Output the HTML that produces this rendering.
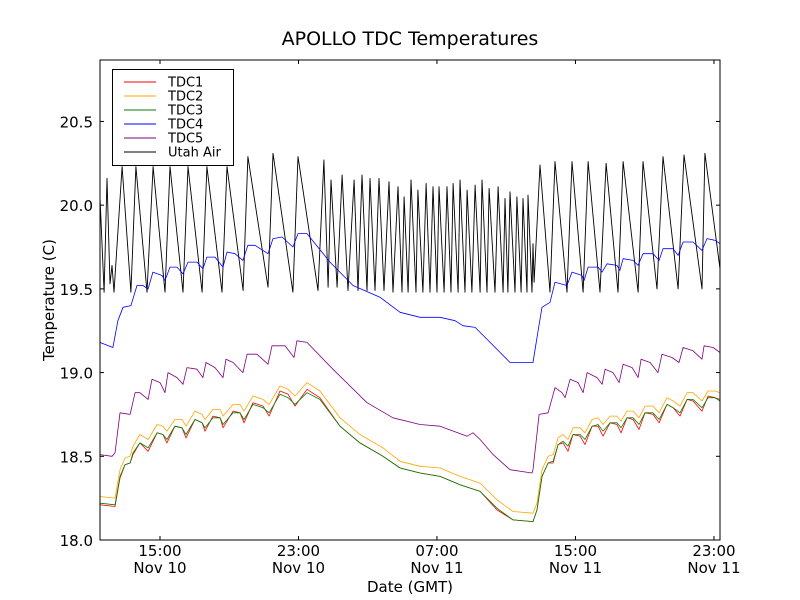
<!DOCTYPE html>
<html><head><meta charset="utf-8"><style>
html,body{margin:0;padding:0;background:#fff;}
svg{display:block;font-family:"DejaVu Sans","Liberation Sans",sans-serif;}
</style></head><body>
<svg id="chart" width="800" height="600" viewBox="0 0 800 600">
<rect width="800" height="600" fill="#fff"/>
<text x="410" y="45" font-size="19" text-anchor="middle">APOLLO TDC Temperatures</text>
<text x="0" y="0" font-size="15" text-anchor="middle" transform="translate(54,300) rotate(-90)">Temperature (C)</text>
<text x="410" y="592" font-size="15" text-anchor="middle">Date (GMT)</text>
<g id="series"></g>
<g id="axes"></g>
<g id="legend"></g>
</svg>
<script>
const tdcHours = [11.53,12.40,12.69,12.98,13.27,13.44,13.84,14.31,14.83,15.17,15.40,15.86,16.27,16.50,17.02,17.43,17.60,18.06,18.47,18.64,19.22,19.62,19.85,20.37,20.95,21.30,21.93,22.40,22.80,23.49,24.24,25.40,26.55,27.88,28.87,30.02,31.18,32.33,33.49,34.47,35.39,36.55,36.78,37.07,37.42,37.71,38.00,38.28,38.57,38.86,39.27,39.55,39.96,40.31,40.59,41.00,41.40,41.63,41.98,42.33,42.67,43.02,43.48,43.83,44.29,44.64,45.04,45.45,45.79,46.31,46.66,47.06,47.35];
const tdc3 = [18.22,18.21,18.38,18.45,18.46,18.52,18.58,18.55,18.64,18.63,18.60,18.68,18.67,18.63,18.72,18.70,18.67,18.73,18.73,18.69,18.76,18.76,18.72,18.81,18.79,18.76,18.87,18.85,18.81,18.88,18.84,18.68,18.58,18.50,18.43,18.40,18.38,18.33,18.29,18.19,18.12,18.11,18.18,18.38,18.46,18.47,18.57,18.59,18.56,18.63,18.63,18.60,18.68,18.69,18.65,18.70,18.70,18.67,18.73,18.73,18.69,18.76,18.76,18.72,18.81,18.79,18.76,18.84,18.84,18.79,18.85,18.85,18.83];
const tdc1 = [18.21,18.20,18.37,18.45,18.46,18.51,18.58,18.53,18.64,18.63,18.58,18.68,18.67,18.61,18.72,18.70,18.65,18.74,18.73,18.67,18.77,18.76,18.70,18.82,18.80,18.74,18.89,18.87,18.80,18.90,18.85,18.68,18.58,18.50,18.43,18.40,18.38,18.33,18.29,18.18,18.12,18.11,18.18,18.38,18.46,18.46,18.57,18.58,18.53,18.63,18.62,18.57,18.68,18.68,18.62,18.70,18.69,18.64,18.73,18.72,18.66,18.76,18.75,18.70,18.81,18.79,18.74,18.84,18.83,18.77,18.86,18.85,18.84];
const tdc2 = [18.26,18.25,18.42,18.49,18.50,18.56,18.63,18.60,18.69,18.68,18.65,18.72,18.72,18.68,18.77,18.75,18.72,18.78,18.78,18.74,18.81,18.81,18.77,18.86,18.84,18.81,18.92,18.90,18.86,18.94,18.89,18.73,18.63,18.55,18.47,18.44,18.43,18.38,18.34,18.24,18.17,18.16,18.22,18.42,18.50,18.51,18.61,18.63,18.60,18.67,18.67,18.64,18.72,18.73,18.69,18.74,18.74,18.71,18.77,18.77,18.73,18.80,18.80,18.76,18.85,18.83,18.80,18.88,18.88,18.83,18.89,18.89,18.88];
const tdc4Hours = [11.53,12.28,12.57,12.86,13.32,13.67,14.02,14.31,14.59,15.12,15.29,15.58,15.98,16.33,16.62,17.14,17.48,17.71,18.18,18.64,18.87,19.33,19.79,20.08,20.49,21.24,21.53,22.05,22.68,22.97,23.49,24.82,26.15,27.71,28.87,30.02,31.18,32.04,32.50,33.20,34.07,35.22,36.55,36.84,37.07,37.53,37.82,38.51,38.80,39.38,39.50,39.73,40.31,40.54,40.82,41.40,41.57,41.75,42.33,42.62,42.90,43.48,43.83,44.06,44.64,44.93,45.22,45.79,46.31,46.60,47.06,47.35];
const tdc4 = [19.18,19.15,19.31,19.39,19.40,19.52,19.52,19.50,19.60,19.58,19.55,19.63,19.63,19.59,19.66,19.66,19.62,19.69,19.69,19.63,19.72,19.71,19.67,19.76,19.76,19.71,19.80,19.81,19.75,19.83,19.83,19.66,19.52,19.45,19.36,19.33,19.33,19.31,19.28,19.27,19.18,19.06,19.06,19.25,19.39,19.42,19.54,19.52,19.60,19.58,19.55,19.63,19.63,19.60,19.65,19.64,19.61,19.68,19.67,19.64,19.71,19.71,19.67,19.74,19.74,19.70,19.78,19.78,19.73,19.80,19.79,19.77];
const tdc5Hours = [11.53,12.23,12.40,12.69,13.27,13.56,13.84,14.31,14.54,15.00,15.29,15.46,15.98,16.33,16.56,17.14,17.48,17.66,18.18,18.64,18.81,19.22,19.79,20.03,20.60,21.24,21.47,22.22,22.74,22.91,23.49,24.99,26.96,28.46,30.02,31.18,32.74,33.08,33.49,34.24,35.22,36.49,36.55,36.90,37.42,37.82,38.22,38.40,38.69,39.15,39.44,39.67,40.25,40.54,40.71,41.17,41.52,41.75,42.27,42.62,42.79,43.31,43.77,44.00,44.58,44.98,45.22,45.79,46.31,46.43,46.95,47.35];
const tdc5 = [18.51,18.50,18.52,18.76,18.75,18.88,18.88,18.84,18.96,18.94,18.88,19.00,18.97,18.93,19.03,19.02,18.97,19.06,19.03,18.97,19.08,19.06,19.00,19.11,19.11,19.05,19.16,19.16,19.09,19.19,19.18,19.02,18.82,18.73,18.69,18.68,18.62,18.64,18.60,18.51,18.42,18.40,18.42,18.75,18.76,18.91,18.88,18.85,18.96,18.94,18.88,19.00,18.97,18.93,19.02,19.00,18.94,19.05,19.03,18.97,19.08,19.06,19.00,19.11,19.09,19.06,19.15,19.13,19.08,19.16,19.15,19.12];
const airHours = [11.53,11.77,11.94,12.11,12.23,12.34,12.81,13.32,13.61,14.25,14.60,15.29,15.58,16.33,16.62,17.43,17.71,18.58,18.87,19.80,20.08,21.24,21.53,22.68,22.97,24.13,24.47,24.71,24.88,25.23,25.52,25.86,26.21,26.44,26.67,26.96,27.13,27.42,27.65,27.94,28.23,28.46,28.75,28.98,29.10,29.33,29.50,29.79,29.90,30.19,30.37,30.60,30.77,31.00,31.12,31.41,31.58,31.81,31.93,32.22,32.33,32.62,32.74,33.02,33.20,33.49,33.60,33.89,34.01,34.35,34.53,34.82,34.93,35.10,35.22,35.51,35.62,35.86,35.97,36.20,36.26,36.49,36.55,36.61,36.95,37.53,37.82,38.51,38.80,39.44,39.73,40.42,40.77,41.46,41.75,42.62,42.90,43.71,44.06,44.93,45.27,46.31,46.48,47.35];
const airTemp = [20.06,19.48,20.16,19.53,19.64,19.48,20.23,19.48,20.23,19.48,20.23,19.48,20.23,19.48,20.23,19.48,20.23,19.48,20.23,19.49,20.29,19.51,20.31,19.48,20.29,19.49,20.27,19.51,20.15,19.51,20.18,19.49,20.15,19.49,20.18,19.49,20.16,19.49,20.16,19.49,20.14,19.48,20.11,19.48,20.05,19.48,20.15,19.48,20.09,19.48,20.13,19.48,20.11,19.48,20.11,19.48,20.11,19.48,20.13,19.48,20.15,19.48,20.09,19.48,20.12,19.48,20.15,19.48,20.10,19.48,20.11,19.48,20.04,19.48,20.08,19.48,20.05,19.48,20.04,19.48,20.06,19.48,19.77,19.54,20.24,19.48,20.26,19.48,20.26,19.48,20.26,19.48,20.25,19.48,20.26,19.48,20.26,19.50,20.29,19.50,20.30,19.50,20.31,19.62];
const yTicks = [18.0,18.5,19.0,19.5,20.0,20.5];
const xTickHours = [15,23,31,39,47];
const xTickTimes = ["15:00","23:00","07:00","15:00","23:00"];
const xTickDates = ["Nov 10","Nov 10","Nov 11","Nov 11","Nov 11"];
const seriesNames = ["TDC1","TDC2","TDC3","TDC4","TDC5","Utah Air"];
const seriesColors = ["#ff0000","#ffa500","#008000","#0000ff","#800080","#000000"];

const NS="http://www.w3.org/2000/svg";
const L=100,R=720,T=60,B=540;
const hMin=11.534,hMax=47.35,vMin=18.0,vMax=20.867;
function xs(h){return L+(h-hMin)/(hMax-hMin)*(R-L);}
function ys(v){return B-(v-vMin)/(vMax-vMin)*(B-T);}
function mk(tag,attrs,parent){const e=document.createElementNS(NS,tag);for(const k in attrs)e.setAttribute(k,attrs[k]);parent.appendChild(e);return e;}

const sg=document.getElementById('series');
const clip=mk('clipPath',{id:'pc'},sg);mk('rect',{x:L,y:T,width:R-L,height:B-T},clip);
const data=[[tdcHours,tdc1],[tdcHours,tdc2],[tdcHours,tdc3],[tdc4Hours,tdc4],[tdc5Hours,tdc5],[airHours,airTemp]];
const order=[5,3,4,1,0,2];
order.forEach(i=>{
  const [hs,vs]=data[i];
  const d=hs.map((h,j)=>(j?'L':'M')+xs(h).toFixed(1)+','+ys(vs[j]).toFixed(1)).join('');
  const p=mk('path',{d:d,fill:'none',stroke:seriesColors[i],'stroke-width':i===5?0.9:0.8,'clip-path':'url(#pc)','stroke-linejoin':'round'},sg);
  
  
});

const ax=document.getElementById('axes');
const frame=mk('rect',{x:L,y:T,width:R-L,height:B-T,fill:'none',stroke:'#000','stroke-width':1},ax);


yTicks.forEach(v=>{
  const y=ys(v);
  mk('line',{x1:L,y1:y,x2:L+4,y2:y,stroke:'#000'},ax);
  mk('line',{x1:R,y1:y,x2:R-4,y2:y,stroke:'#000'},ax);
  const t=mk('text',{x:L-7,y:y+6,'font-size':15,'text-anchor':'end'},ax);
  t.textContent=v.toFixed(1);
  
  
});
xTickHours.forEach((h,i)=>{
  const x=xs(h);
  mk('line',{x1:x,y1:B,x2:x,y2:B-4,stroke:'#000'},ax);
  mk('line',{x1:x,y1:T,x2:x,y2:T+4,stroke:'#000'},ax);
  const t1=mk('text',{x:x,y:556,'font-size':15,'text-anchor':'middle'},ax);
  t1.textContent=xTickTimes[i];
  
  
  const t2=mk('text',{x:x,y:573,'font-size':15,'text-anchor':'middle'},ax);
  t2.textContent=xTickDates[i];
  
  
});

const lg=document.getElementById('legend');
const box=mk('rect',{x:112.5,y:69.5,width:121,height:96,fill:'#fff',stroke:'#000','stroke-width':1},lg);


seriesNames.forEach((n,i)=>{
  const y=82+i*14;
  const g=mk('g',{},lg);
  
  
  mk('line',{x1:124,y1:y,x2:156,y2:y,stroke:seriesColors[i],'stroke-width':0.9},g);
  const t=mk('text',{x:168,y:y+4.5,'font-size':13},g);
  t.textContent=n;
});
</script>
</body></html>
